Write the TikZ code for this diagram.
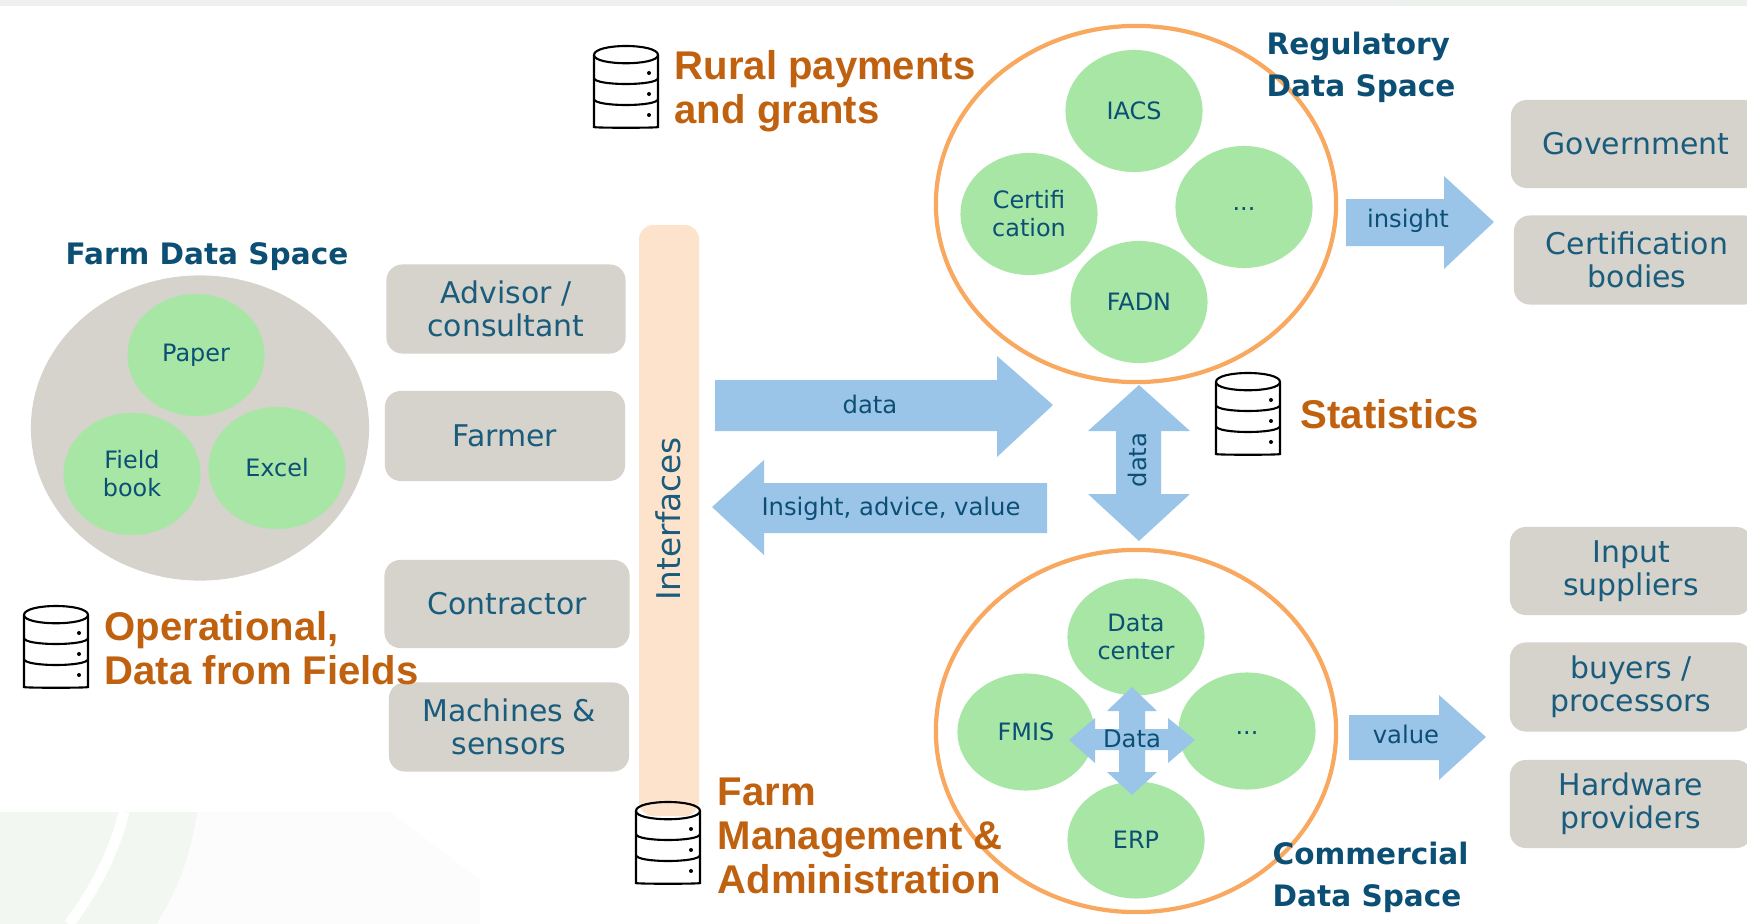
\documentclass[tikz,border=0pt]{standalone}
\usepackage{fontspec}
\setmainfont{DejaVu Sans}
\newfontfamily\headfont{Liberation Sans}[BoldFont={Liberation Sans Bold}]
\usetikzlibrary{shapes.geometric}
\definecolor{tilegrey}{HTML}{D5D3CC}
\definecolor{blobgreen}{HTML}{A8E6A6}
\definecolor{barpeach}{HTML}{FDE3CC}
\definecolor{flowblue}{HTML}{9BC5E8}
\definecolor{ringorange}{HTML}{F9A860}
\definecolor{inktext}{HTML}{1A5C7C}
\definecolor{inkhead}{HTML}{0B4F74}
\definecolor{rusthead}{HTML}{C0610F}
\tikzset{
  tile/.style={fill=tilegrey,rounded corners=4.5pt,align=center,text=inktext,inner sep=0pt,
    font=\fontsize{8.5}{9.4}\selectfont},
  blob/.style={ellipse,fill=blobgreen,align=center,text=inkhead,inner sep=0pt,
    minimum width=1.37cm,minimum height=1.22cm,font=\fontsize{6.8}{8}\selectfont},
  ring/.style={ellipse,draw=ringorange,line width=1.2pt,inner sep=0pt},
  flow/.style={fill=flowblue},
  flowtext/.style={text=inkhead,inner sep=0pt,font=\fontsize{6.9}{8}\selectfont},
  spacehead/.style={text=inkhead,align=left,inner sep=0pt,
    font=\fontsize{8.4}{11.9}\selectfont\bfseries},
  sourcehead/.style={text=rusthead,align=left,anchor=west,inner sep=0pt,
    font=\headfont\fontsize{11.4}{12.6}\selectfont\bfseries},
  dbstack/.pic={
   \path[fill=white] (-32,-31) -- (-32,34) .. controls (-32,42) and (32,42) .. (32,34)
    -- (32,-31) .. controls (32,-20) and (-32,-20) .. cycle;
   \draw[line width=0.6pt] (-32,-31) .. controls (-32,-43) and (32,-43) .. (32,-31)
    .. controls (32,-20) and (-32,-20) .. cycle;
   \draw[line width=0.6pt,rounded corners=2pt] (-32,-31) -- (-32,34) .. controls (-32,42) and (32,42) .. (32,34) -- (32,-31);
   \foreach \y in {-8,13} {
    \draw[line width=0.6pt] (-32,\y) .. controls (-32,{\y+8}) and (32,{\y+8}) .. (32,\y);
   }
   \foreach \y in {-13,8,29} {
    \fill (23,\y) circle(2);
   }
  }
}
\begin{document}
\begin{tikzpicture}[x=0.01cm,y=-0.01cm]
   \useasboundingbox (0,0) rectangle (1747,924);
   \clip (0,0) rectangle (1747,924);
   \fill[white] (0,0) rectangle (1747,924);
   \fill[black!6] (0,0) rectangle (1747,6);
   \fill[green!30!black!8] (1397,0) -- (1747,0) -- (1747,6) -- (1402,6) -- cycle;
   \fill[black!1] (0,812) -- (390,812) -- (480,880) -- (480,924) -- (0,924) -- cycle;
   \fill[green!40!black!5] (0,812) -- (197,812) .. controls (190,860) and (175,895) .. (156,924) -- (0,924) -- cycle;
   \draw[white,line width=3pt] (124,812) .. controls (115,850) and (95,890) .. (69,924);

   \node[ellipse,fill=tilegrey,inner sep=0pt,minimum width=3.38cm,minimum height=3.05cm] (farmdisc) at (200,428) {};
   \node[blob] (paper) at (196,355) {Paper};
   \node[blob] (fieldbook) at (132,474) {Field\\book};
   \node[blob] (excel) at (277,468) {Excel};

   \node[tile,minimum width=2.39cm,minimum height=0.89cm] (advisor) at (506,309) {Advisor /\\consultant};
   \node[tile,minimum width=2.40cm,minimum height=0.90cm] (farmer) at (505,436) {Farmer};
   \node[tile,minimum width=2.45cm,minimum height=0.88cm] (contractor) at (507,604) {Contractor};
   \node[tile,minimum width=2.40cm,minimum height=0.89cm] (machines) at (509,727) {Machines \&\\sensors};

   \fill[barpeach,rounded corners=4pt] (639,225) rectangle (699,816);
   \node[rotate=90,text=inktext,inner sep=0pt,font=\fontsize{9.3}{10}\selectfont] (interfaces) at (668,519) {Interfaces};

   \fill[flow] (715,380) -- (997,380) -- (997,356) -- (1053,405) -- (997,457) -- (997,431) -- (715,431) -- cycle;
   \node[flowtext] (dataout) at (870,404) {data};
   \fill[flow] (1047,483) -- (764,483) -- (764,460) -- (712,507) -- (764,555) -- (764,533) -- (1047,533) -- cycle;
   \node[flowtext] (insightback) at (891,509) {Insight, advice, value};
   \fill[flow] (1139,385) -- (1190,431) -- (1161,431) -- (1161,494) -- (1190,494) -- (1139,541) -- (1088,494) -- (1116,494) -- (1116,431) -- (1088,431) -- cycle;
   \node[flowtext,rotate=90] (dataupdown) at (1137,460) {data};

   \node[ring,minimum width=4cm,minimum height=3.56cm] (regring) at (1136,204) {};
   \node[blob] (iacs) at (1134,111) {IACS};
   \node[blob] (certif) at (1029,214) {Certifi\\cation};
   \node[blob] (regmore) at (1244,207) {\raisebox{-2.2pt}{...}};
   \node[blob] (fadn) at (1139,302) {FADN};

   \node[ring,minimum width=4cm,minimum height=3.62cm] (comring) at (1136,731) {};
   \node[blob,minimum height=1.17cm] (datacenter) at (1136,637) {Data\\center};
   \node[blob,minimum height=1.17cm] (fmis) at (1026,732) {FMIS};
   \node[blob,minimum height=1.17cm] (commore) at (1247,731) {\raisebox{-2.2pt}{...}};
   \node[blob,minimum height=1.17cm] (erp) at (1136,840) {ERP};

   \fill[flow] (1132,687) -- (1157,711) -- (1145,711) -- (1145,729) -- (1168,729) -- (1168,718) -- (1195,740) -- (1168,763) -- (1168,750) -- (1145,750) -- (1145,772) -- (1157,772) -- (1132,795) -- (1107,772) -- (1119,772) -- (1119,750) -- (1095,750) -- (1095,763) -- (1069,740) -- (1095,718) -- (1095,729) -- (1119,729) -- (1119,711) -- (1107,711) -- cycle;
   \node[flowtext] (datacross) at (1132,739) {Data};

   \fill[flow] (1346,199) -- (1444,199) -- (1444,176) -- (1494,222) -- (1444,269) -- (1444,246) -- (1346,246) -- cycle;
   \node[flowtext] (insightout) at (1408,221) {insight};
   \fill[flow] (1349,715) -- (1439,715) -- (1439,695) -- (1486,737) -- (1439,780) -- (1439,760) -- (1349,760) -- cycle;
   \node[flowtext] (valueout) at (1406,734) {value};

   \node[tile,minimum width=2.50cm,minimum height=0.88cm] (government) at (1636,144) {Government};
   \node[tile,minimum width=2.46cm,minimum height=0.89cm] (certbodies) at (1637,260) {Certification\\bodies};
   \node[tile,minimum width=2.42cm,minimum height=0.88cm] (input) at (1631,571) {Input\\suppliers};
   \node[tile,minimum width=2.42cm,minimum height=0.89cm] (buyers) at (1631,687) {buyers /\\processors};
   \node[tile,minimum width=2.42cm,minimum height=0.88cm] (hardware) at (1631,804) {Hardware\\providers};

   \pic at (626,86) {dbstack};
   \pic at (56,646) {dbstack};
   \pic at (1248,413) {dbstack};
   \pic at (668,842) {dbstack};

   \node[spacehead] (farmspace) at (207,257) {Farm Data Space};
   \node[spacehead,anchor=west] (regspace) at (1266,67) {Regulatory\\Data Space};
   \node[spacehead,anchor=west] (comspace) at (1272,877) {Commercial\\Data Space};
   \node[sourcehead] (rural) at (674,91) {Rural payments\\and grants};
   \node[sourcehead] (statistics) at (1300,414) {Statistics};
   \node[sourcehead] (operational) at (104,648) {Operational,\\Data from Fields};
   \node[sourcehead] (farmadmin) at (717,836) {Farm\\Management \&\\Administration};
  \end{tikzpicture}
\end{document}
